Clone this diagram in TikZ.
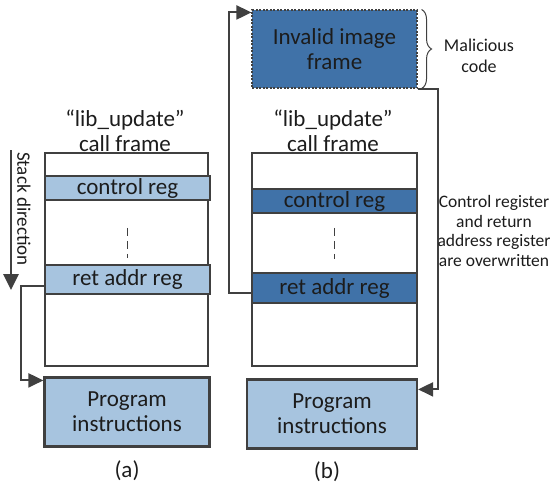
\documentclass[tikz,border=0pt]{standalone}
\usepackage{fontspec}
\setmainfont{Carlito}
\usepackage{xcolor}
\usetikzlibrary{positioning, arrows.meta, decorations.pathreplacing, calc}
\definecolor{lightreg}{RGB}{167,196,223}
\definecolor{darkreg}{RGB}{64,114,168}
\definecolor{edgegray}{RGB}{64,64,64}
\definecolor{inkgray}{RGB}{28,28,28}

\begin{document}
\begin{tikzpicture}[
    x=1pt, y=-1pt,
    font=\fontsize{23}{25}\selectfont, text=inkgray,
    frame/.style={rectangle, draw=edgegray, line width=2.2pt, fill=white, minimum width=163pt, minimum height=213pt, inner sep=0pt},
    lreg/.style={rectangle, draw=edgegray, line width=1.6pt, fill=lightreg, minimum width=165pt, inner sep=0pt},
    dreg/.style={rectangle, draw=edgegray, line width=1.6pt, fill=darkreg, minimum width=165pt, inner sep=0pt},
    prog/.style={rectangle, draw=edgegray, line width=2.2pt, fill=lightreg, minimum height=69pt, align=center, inner sep=0pt},
    invalid/.style={rectangle, draw=edgegray, line width=1.1pt, dash pattern=on 2pt off 1.5pt, fill=darkreg, minimum width=165pt, minimum height=78pt, align=center, inner sep=0pt},
    lbl/.style={align=center, inner sep=0pt},
    note/.style={align=center, inner sep=0pt, font=\fontsize{17.5}{19.5}\selectfont},
    conn/.style={draw=edgegray, line width=2pt, -{Triangle[length=15pt, width=14pt]}},
    dots/.style={draw=edgegray, line width=1.5pt, dash pattern=on 8pt off 5pt},
]
\useasboundingbox (0,0) rectangle (550,485);

\node[frame] (frameA) at (126.5,259.5) {};
\node[lreg, minimum height=24pt] (ctrlA) at (127.5,188) {control reg};
\node[lreg, minimum height=29pt] (retA) at (127.5,279.5) {ret addr reg};
\node[prog, minimum width=165pt] (progA) at (127,412) {Program\\instructions};
\node[lbl] (labA) at (125,131) {“lib\_update”\\call frame};
\node[lbl] (capA) at (127,471) {(a)};
\draw[dots] ([yshift=-27pt]ctrlA.south) -- ([yshift=6pt]retA.north);

\coordinate (stackTop) at (11,150);
\coordinate (stackEnd) at (11,290);
\draw[draw=edgegray, line width=2.8pt, -{Triangle[length=16pt, width=15pt]}] (stackTop) -- (stackEnd);
\node[lbl, rotate=-90, font=\fontsize{19}{23}\selectfont] (stackdir) at (24,209) {Stack direction};

\draw[conn] ([yshift=-6pt]retA.west) -- ++(-23,0) |- ([yshift=-4pt]progA.north west);

\node[invalid] (bad) at (334.5,49) {Invalid image\\frame};
\node[frame, minimum width=165pt] (frameB) at (334.5,259.5) {};
\node[dreg, minimum height=24pt] (ctrlB) at (334.5,201) {control reg};
\node[dreg, minimum height=30pt] (retB) at (334.5,288) {ret addr reg};
\node[prog, minimum width=170pt] (progB) at (332,414) {Program\\instructions};
\node[lbl] (labB) at (333,131) {“lib\_update”\\call frame};
\node[lbl] (capB) at (327,472) {(b)};
\draw[dots] ([yshift=-14pt]ctrlB.south) -- ([yshift=13pt]retB.north);

\draw[conn] ([yshift=-5pt]retB.west) -- ++(-22,0) |- ([yshift=-3pt]bad.north west);
\draw[conn] (bad.south east) -- ++(20,0) |- ([yshift=-11pt]progB.north east);

\draw[draw=edgegray, line width=1pt, decorate, decoration={brace, amplitude=10pt}] ([xshift=4pt]bad.north east) -- ([xshift=4pt]bad.south east);
\node[note, font=\fontsize{18}{21}\selectfont] (malice) at (479,56) {Malicious\\code};
\node[note] (overw) at (494,231) {Control register\\and return\\address register\\are overwritten};
\end{tikzpicture}
\end{document}
